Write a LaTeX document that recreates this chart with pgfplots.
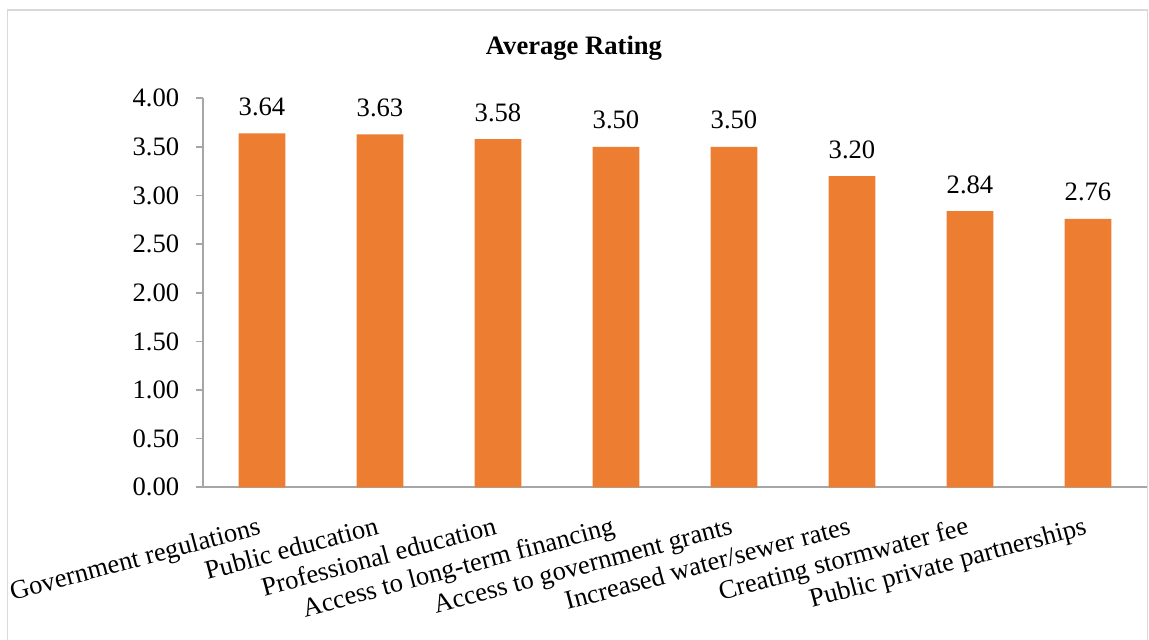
\documentclass[border=0pt]{standalone}
\usepackage{pgfplots}
\pgfplotsset{compat=1.18}
\usepackage{fontspec}
\setmainfont{Liberation Serif}
\definecolor{barorange}{HTML}{ED7D31}
\definecolor{axisgray}{HTML}{A6A6A6}
\definecolor{framegray}{HTML}{D9D9D9}
\begin{document}
\fontsize{13.3}{16}\selectfont
\begin{tikzpicture}
\useasboundingbox (0,0) rectangle (574.5pt,320pt);
\begin{scope}
  \clip (0,0) rectangle (574.5pt,320pt);
  \draw[framegray, line width=0.8pt] (3.75pt,-5pt) rectangle (573.75pt,315pt);
\end{scope}
\node[font=\bfseries, anchor=base] at (287pt,292.5pt) {Average Rating};
\begin{axis}[
  at={(101.5pt,76.35pt)}, anchor=south west,
  scale only axis, width=472pt, height=194.5pt,
  ymin=0, ymax=4, xmin=-0.5, xmax=7.5,
  axis x line*=bottom, axis y line*=left,
  axis line style={axisgray, line width=0.8pt},
  ytick={0,0.5,...,4},
  /pgf/number format/fixed,
  /pgf/number format/fixed zerofill,
  /pgf/number format/precision=2,
  /pgf/number format/assume math mode=true,
  yticklabel style={anchor=east, inner sep=0pt, xshift=-8pt},
  tick align=outside,
  major tick length=3.75pt,
  minor tick length=3.75pt,
  tick style={axisgray, line width=0.8pt},
  xtick=data,
  xtick style={draw=none},
  minor xtick={-0.5,0.5,...,7.5},
  xticklabels={Government regulations, Public education, Professional education,
    Access to long-term financing, Access to government grants,
    Increased water/sewer rates, Creating stormwater fee, Public private partnerships},
  xticklabel style={yshift=-19.5pt, rotate=15, anchor=base east, inner sep=0pt},
  ybar, bar width=23.35pt,
  nodes near coords,
  nodes near coords style={anchor=base, yshift=9pt, inner sep=0pt},
]
\addplot[fill=barorange, draw=none] coordinates {
  (0,3.64) (1,3.63) (2,3.58) (3,3.50) (4,3.50) (5,3.20) (6,2.84) (7,2.76)
};
\end{axis}
\end{tikzpicture}
\end{document}
